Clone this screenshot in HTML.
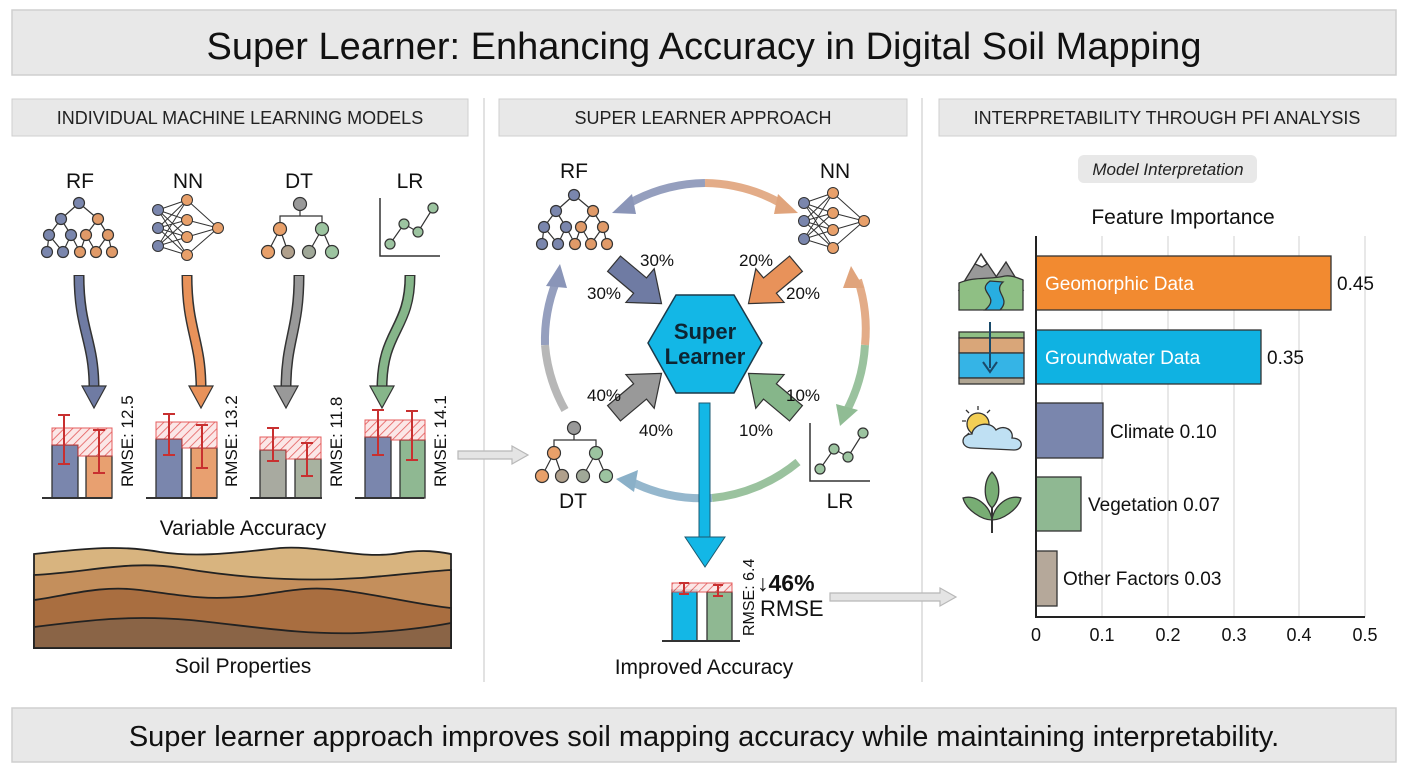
<!DOCTYPE html>
<html><head><meta charset="utf-8"><style>
html,body{margin:0;padding:0;background:#fff;}
svg{display:block;font-family:"Liberation Sans",sans-serif;}
</style></head><body>
<svg width="1408" height="768" viewBox="0 0 1408 768" xmlns="http://www.w3.org/2000/svg">
<defs>
<pattern id="hatch" width="6" height="6" patternUnits="userSpaceOnUse" patternTransform="rotate(45)">
<rect width="6" height="6" fill="#fbe3e3"/><line x1="0" y1="0" x2="0" y2="6" stroke="#e04040" stroke-width="1.6"/></pattern>
<g id="rf" stroke="#333" stroke-width="1.2">
<path d="M79,203 L61,219 M79,203 L98,219 M61,219 L49,235 M61,219 L71,235 M98,219 L86,235 M98,219 L108,235 M49,235 L47,252 M49,235 L63,252 M71,235 L63,252 M71,235 L80,252 M86,235 L80,252 M86,235 L96,252 M108,235 L96,252 M108,235 L112,252" fill="none"/>
<circle cx="79" cy="203" r="5.5" fill="#7a86ad"/><circle cx="61" cy="219" r="5.5" fill="#7a86ad"/><circle cx="98" cy="219" r="5.5" fill="#e09a68"/>
<circle cx="49" cy="235" r="5.5" fill="#7a86ad"/><circle cx="71" cy="235" r="5.5" fill="#7a86ad"/><circle cx="86" cy="235" r="5.5" fill="#e09a68"/><circle cx="108" cy="235" r="5.5" fill="#e09a68"/>
<circle cx="47" cy="252" r="5.5" fill="#7a86ad"/><circle cx="63" cy="252" r="5.5" fill="#7a86ad"/><circle cx="80" cy="252" r="5.5" fill="#e09a68"/><circle cx="96" cy="252" r="5.5" fill="#e09a68"/><circle cx="112" cy="252" r="5.5" fill="#e09a68"/>
</g>
<g id="nn" stroke="#333" stroke-width="1">
<path d="M158,210 L187,200 M158,210 L187,220 M158,210 L187,237 M158,210 L187,255 M158,228 L187,200 M158,228 L187,220 M158,228 L187,237 M158,228 L187,255 M158,246 L187,200 M158,246 L187,220 M158,246 L187,237 M158,246 L187,255 M187,200 L218,228 M187,220 L218,228 M187,237 L218,228 M187,255 L218,228" fill="none"/>
<circle cx="158" cy="210" r="5.5" fill="#7a86ad"/><circle cx="158" cy="228" r="5.5" fill="#7a86ad"/><circle cx="158" cy="246" r="5.5" fill="#7a86ad"/>
<circle cx="187" cy="200" r="5.5" fill="#e8a06a"/><circle cx="187" cy="220" r="5.5" fill="#e8a06a"/><circle cx="187" cy="237" r="5.5" fill="#e8a06a"/><circle cx="187" cy="255" r="5.5" fill="#e8a06a"/><circle cx="218" cy="228" r="5.5" fill="#e8a06a"/>
</g>
<g id="dt" stroke="#333" stroke-width="1.2">
<path d="M300,210 L300,216 L280,216 L280,229 M300,216 L322,216 L322,229 M280,229 L268,252 M280,229 L288,252 M322,229 L309,252 M322,229 L332,252" fill="none"/>
<circle cx="300" cy="204" r="6.5" fill="#999"/><circle cx="280" cy="229" r="6.5" fill="#e8a06a"/><circle cx="322" cy="229" r="6.5" fill="#9cc4a0"/>
<circle cx="268" cy="252" r="6.5" fill="#e8a06a"/><circle cx="288" cy="252" r="6.5" fill="#b0a08c"/><circle cx="309" cy="252" r="6.5" fill="#a0a898"/><circle cx="332" cy="252" r="6.5" fill="#9cc4a0"/>
</g>
<g id="lr" stroke="#333" stroke-width="1.2">
<path d="M380,198 L380,256 L440,256" fill="none" stroke-width="1.5"/>
<path d="M390,244 L404,224 L418,232 L433,208" fill="none"/>
<circle cx="390" cy="244" r="5" fill="#9cc4a0"/><circle cx="404" cy="224" r="5" fill="#9cc4a0"/><circle cx="418" cy="232" r="5" fill="#9cc4a0"/><circle cx="433" cy="208" r="5" fill="#9cc4a0"/>
</g>
<polygon id="fat" points="-30,-10 4,-10 4,-22 32,0 4,22 4,10 -30,10" stroke="#333" stroke-width="1.2"/>
</defs>

<!-- Title -->
<rect x="12" y="10" width="1384" height="65" fill="#e8e8e8" stroke="#cfcfcf" stroke-width="1.5"/>
<text x="704" y="59" font-size="38" text-anchor="middle" fill="#111">Super Learner: Enhancing Accuracy in Digital Soil Mapping</text>

<!-- Section headers -->
<rect x="12" y="99" width="456" height="37" fill="#e8e8e8" stroke="#cfcfcf"/>
<text x="240" y="124" font-size="18" text-anchor="middle" fill="#222">INDIVIDUAL MACHINE LEARNING MODELS</text>
<rect x="499" y="99" width="408" height="37" fill="#e8e8e8" stroke="#cfcfcf"/>
<text x="703" y="124" font-size="18" text-anchor="middle" fill="#222">SUPER LEARNER APPROACH</text>
<rect x="939" y="99" width="457" height="37" fill="#e8e8e8" stroke="#cfcfcf"/>
<text x="1167" y="124" font-size="18" text-anchor="middle" fill="#222">INTERPRETABILITY THROUGH PFI ANALYSIS</text>
<line x1="484" y1="98" x2="484" y2="682" stroke="#d8d8d8" stroke-width="1.5"/>
<line x1="922" y1="98" x2="922" y2="682" stroke="#d8d8d8" stroke-width="1.5"/>

<!-- Left panel -->
<g font-size="21" text-anchor="middle" fill="#111">
<text x="80" y="188">RF</text><text x="188" y="188">NN</text><text x="299" y="188">DT</text><text x="410" y="188">LR</text>
</g>
<use href="#rf"/><use href="#nn"/><use href="#dt"/><use href="#lr"/>

<g fill="none" stroke-linecap="butt">
<path d="M79,275 C79,330 94,340 94,388" stroke="#333" stroke-width="11"/><path d="M79,276 C79,330 94,340 94,388" stroke="#6f7ba3" stroke-width="8"/>
<path d="M187,275 C187,330 201,340 201,388" stroke="#333" stroke-width="11"/><path d="M187,276 C187,330 201,340 201,388" stroke="#e8925a" stroke-width="8"/>
<path d="M299,275 C299,330 286,340 286,388" stroke="#333" stroke-width="11"/><path d="M299,276 C299,330 286,340 286,388" stroke="#999" stroke-width="8"/>
<path d="M410,275 C410,330 382,330 382,388" stroke="#333" stroke-width="11"/><path d="M410,276 C410,330 382,330 382,388" stroke="#86b68a" stroke-width="8"/>
</g>
<polygon points="82,386 106,386 94,408" fill="#6f7ba3" stroke="#333" stroke-width="1.2"/>
<polygon points="189,386 213,386 201,408" fill="#e8925a" stroke="#333" stroke-width="1.2"/>
<polygon points="274,386 298,386 286,408" fill="#999" stroke="#333" stroke-width="1.2"/>
<polygon points="370,386 394,386 382,408" fill="#86b68a" stroke="#333" stroke-width="1.2"/>

<g stroke="#333" stroke-width="1.3">
<rect x="52" y="445" width="26" height="53" fill="#7a86ad"/><rect x="86" y="456" width="26" height="42" fill="#e8a070"/>
<rect x="156" y="439" width="26" height="59" fill="#7a86ad"/><rect x="191" y="448" width="26" height="50" fill="#e8a070"/>
<rect x="260" y="450" width="26" height="48" fill="#a8aaa0"/><rect x="295" y="459" width="26" height="39" fill="#a8b2a0"/>
<rect x="365" y="437" width="26" height="61" fill="#7a86ad"/><rect x="400" y="440" width="25" height="58" fill="#8fb892"/>
</g>
<g opacity="0.85">
<polygon points="52,428 112,428 112,456 78,456 78,445 52,445" fill="url(#hatch)" stroke="#e04040"/>
<polygon points="156,422 217,422 217,448 182,448 182,439 156,439" fill="url(#hatch)" stroke="#e04040"/>
<polygon points="260,437 321,437 321,459 286,459 286,450 260,450" fill="url(#hatch)" stroke="#e04040"/>
<polygon points="365,420 425,420 425,440 391,440 391,437 365,437" fill="url(#hatch)" stroke="#e04040"/>
</g>
<g stroke="#c83030" stroke-width="2">
<path d="M64,415 V464 M58,415 H70 M58,464 H70 M99,430 V473 M93,430 H105 M93,473 H105"/>
<path d="M169,414 V455 M163,414 H175 M163,455 H175 M202,425 V468 M196,425 H208 M196,468 H208"/>
<path d="M273,428 V461 M267,428 H279 M267,461 H279 M307,443 V476 M301,443 H313 M301,476 H313"/>
<path d="M378,410 V455 M372,410 H384 M372,455 H384 M412,411 V460 M406,411 H418 M406,460 H418"/>
</g>
<g stroke="#333" stroke-width="2"><path d="M42,498 H112 M146,498 H217 M250,498 H322 M355,498 H424"/></g>
<g font-size="17" fill="#111">
<text transform="translate(133,487) rotate(-90)">RMSE: 12.5</text>
<text transform="translate(237,487) rotate(-90)">RMSE: 13.2</text>
<text transform="translate(342,487) rotate(-90)">RMSE: 11.8</text>
<text transform="translate(446,487) rotate(-90)">RMSE: 14.1</text>
</g>
<text x="243" y="535" font-size="21" text-anchor="middle" fill="#111">Variable Accuracy</text>

<g stroke="#222" stroke-width="1.8">
<path d="M34,554 C90,548 120,545 160,552 C200,558 240,552 280,548 C320,545 360,560 400,553 C425,549 440,552 451,554 V648 H34 Z" fill="#d8b47f"/>
<path d="M34,575 C90,572 130,560 180,568 C240,578 300,582 360,578 C400,575 430,571 451,570 V648 H34 Z" fill="#c48f5c"/>
<path d="M34,600 C70,595 100,585 140,590 C180,595 200,600 240,597 C280,594 300,585 340,590 C380,595 420,605 451,608 V648 H34 Z" fill="#a96e40"/>
<path d="M34,627 C90,620 130,615 190,620 C250,626 300,635 360,633 C400,631 430,627 451,623 V648 H34 Z" fill="#8a6446"/>
</g>
<text x="243" y="673" font-size="21" text-anchor="middle" fill="#111">Soil Properties</text>

<g fill="#e4e4e4" stroke="#b8b8b8" stroke-width="1.2">
<polygon points="458,451 512,451 512,446 528,455 512,464 512,459 458,459"/>
<polygon points="830,593 940,593 940,588 956,597 940,606 940,601 830,601"/>
</g>

<!-- Middle ring -->
<g fill="none" stroke-width="8" opacity="0.9">
<path d="M628,204 A160,160 0 0 1 705,183" stroke="#8a95b8"/>
<path d="M705,183 A160,160 0 0 1 782,204" stroke="#e0a47c"/>
<path d="M858,280 A160,160 0 0 1 865,345" stroke="#e0a47c"/>
<path d="M865,345 A160,160 0 0 1 846,412" stroke="#90bc94"/>
<path d="M565,410 A160,160 0 0 1 545,345" stroke="#b0b0b0"/>
<path d="M545,345 A160,160 0 0 1 556,282" stroke="#8a95b8"/>
<path d="M798,462 A160,160 0 0 1 712,498" stroke="#90bc94"/>
<path d="M712,498 A160,160 0 0 1 632,482" stroke="#8ab0c8"/>
</g>
<polygon points="612,213 632,194 636,214" fill="#8a95b8"/>
<polygon points="798,213 778,194 774,214" fill="#e0a47c"/>
<polygon points="851,266 843,288 864,288" fill="#e0a47c"/>
<polygon points="840,426 836,404 858,410" fill="#90bc94"/>
<polygon points="560,264 546,286 567,288" fill="#8a95b8"/>
<polygon points="616,479 638,470 634,492" fill="#8ab0c8"/>

<use href="#rf" transform="translate(495,-8)"/>
<use href="#nn" transform="translate(646,-7)"/>
<use href="#dt" transform="translate(274,224)"/>
<use href="#lr" transform="translate(430,225)"/>
<g font-size="21" text-anchor="middle" fill="#111">
<text x="574" y="178">RF</text><text x="835" y="178">NN</text><text x="573" y="508">DT</text><text x="840" y="508">LR</text>
</g>

<use href="#fat" transform="translate(637,283) rotate(40)" fill="#6f7ba3"/>
<use href="#fat" transform="translate(773,283) rotate(140)" fill="#e8925a"/>
<use href="#fat" transform="translate(637,394) rotate(-40)" fill="#999"/>
<use href="#fat" transform="translate(773,394) rotate(-140)" fill="#86b68a"/>
<g font-size="17" text-anchor="middle" fill="#111">
<text x="657" y="266">30%</text><text x="604" y="299">30%</text>
<text x="756" y="266">20%</text><text x="803" y="299">20%</text>
<text x="604" y="401">40%</text><text x="656" y="436">40%</text>
<text x="803" y="401">10%</text><text x="756" y="436">10%</text>
</g>
<polygon points="676,295 734,295 762,343 734,393 676,393 648,343" fill="#13b7e6" stroke="#1c3a4a" stroke-width="1.5"/>
<text x="705" y="339" font-size="22" font-weight="bold" text-anchor="middle" fill="#0d2533">Super</text>
<text x="705" y="364" font-size="22" font-weight="bold" text-anchor="middle" fill="#0d2533">Learner</text>

<rect x="699" y="403" width="11" height="136" fill="#13b7e6" stroke="#1c5a70" stroke-width="1"/>
<polygon points="685,537 725,537 705,567" fill="#13b7e6" stroke="#1c5a70" stroke-width="1"/>

<g stroke="#333" stroke-width="1.3">
<rect x="672" y="590" width="25" height="51" fill="#13b7e6"/><rect x="707" y="592" width="25" height="49" fill="#8fb892"/>
</g>
<rect x="672" y="583" width="60" height="9" fill="url(#hatch)" stroke="#e04040" opacity="0.85"/>
<path d="M684,583 V594 M679,583 H689 M679,594 H689 M718,585 V596 M713,585 H723 M713,596 H723" stroke="#c83030" stroke-width="2"/>
<path d="M662,641 H740" stroke="#333" stroke-width="2"/>
<text transform="translate(754,636) rotate(-90)" font-size="16" fill="#111">RMSE: 6.4</text>
<text x="757" y="591" font-size="23" font-weight="bold" fill="#111">↓46%</text>
<text x="760" y="616" font-size="22" fill="#111">RMSE</text>
<text x="704" y="674" font-size="21" text-anchor="middle" fill="#111">Improved Accuracy</text>

<!-- Right panel -->
<rect x="1078" y="155" width="179" height="28" rx="6" fill="#e8e8e8"/>
<text x="1168" y="175" font-size="17" font-style="italic" text-anchor="middle" fill="#222">Model Interpretation</text>
<text x="1183" y="224" font-size="21" text-anchor="middle" fill="#111">Feature Importance</text>
<g stroke="#d8d8d8" stroke-width="1.2">
<path d="M1102,236 V617 M1168,236 V617 M1234,236 V617 M1299,236 V617 M1365,236 V617"/>
</g>
<g stroke="#333" stroke-width="1.3">
<rect x="1036" y="256" width="295" height="54" fill="#f28a30"/>
<rect x="1036" y="330" width="225" height="54" fill="#0fb2e2"/>
<rect x="1036" y="403" width="67" height="55" fill="#7a86ad"/>
<rect x="1036" y="477" width="45" height="54" fill="#8fb892"/>
<rect x="1036" y="551" width="21" height="55" fill="#b5a89a"/>
</g>
<path d="M1036,236 V617 H1365" fill="none" stroke="#222" stroke-width="2"/>
<g font-size="19" fill="#111">
<text x="1045" y="290" fill="#fff">Geomorphic Data</text><text x="1337" y="290">0.45</text>
<text x="1045" y="364" fill="#fff">Groundwater Data</text><text x="1267" y="364">0.35</text>
<text x="1110" y="438">Climate 0.10</text>
<text x="1088" y="511">Vegetation 0.07</text>
<text x="1063" y="585">Other Factors 0.03</text>
</g>
<g font-size="18" text-anchor="middle" fill="#111">
<text x="1036" y="641">0</text><text x="1102" y="641">0.1</text><text x="1168" y="641">0.2</text><text x="1234" y="641">0.3</text><text x="1299" y="641">0.4</text><text x="1365" y="641">0.5</text>
</g>

<g stroke="#333" stroke-width="1.3">
<polygon points="959,290 981,254 1004,288" fill="#999"/>
<polygon points="990,286 1006,262 1023,290" fill="#999"/>
<polygon points="975,264 981,254 987,264 982,267" fill="#fff"/>
<path d="M959,283 C975,276 990,280 1005,276 C1012,275 1018,278 1023,280 V310 H959 Z" fill="#8fbf84"/>
<path d="M990,281 C975,292 1002,296 985,310 H1000 C1012,298 992,292 1003,282 Z" fill="#28aee0"/>
<rect x="959" y="332" width="65" height="6" fill="#8fbf84"/>
<rect x="959" y="338" width="65" height="15" fill="#d9a679"/>
<rect x="959" y="353" width="65" height="25" fill="#35b4e6"/>
<rect x="959" y="378" width="65" height="6" fill="#b0a592"/>
<path d="M990,322 V368 M983,362 L990,372 L997,362" fill="none" stroke="#1a4a6a" stroke-width="2"/>
<circle cx="978" cy="424" r="11" fill="#f3cf55"/>
<path d="M972,448 C960,448 960,434 972,434 C973,424 990,420 996,430 C1004,424 1014,430 1012,438 C1024,438 1024,450 1014,450 Z" fill="#bfe0f3"/>
<path d="M978,406 V410 M962,421 H966 M966,410 L969,413 M990,410 L987,413 M966,436 L969,433" fill="none"/>
<path d="M992,533 V495" fill="none" stroke-width="2"/>
<path d="M992,508 C982,498 984,480 992,472 C1000,480 1002,498 992,508 Z" fill="#78ad74"/>
<path d="M992,520 C982,520 966,510 963,498 C975,494 990,505 992,520 Z" fill="#78ad74"/>
<path d="M992,520 C1002,520 1018,510 1021,498 C1009,494 994,505 992,520 Z" fill="#78ad74"/>
</g>

<rect x="12" y="708" width="1384" height="54" fill="#e8e8e8" stroke="#cfcfcf" stroke-width="1.5"/>
<text x="704" y="746" font-size="29" text-anchor="middle" fill="#111">Super learner approach improves soil mapping accuracy while maintaining interpretability.</text>
</svg>
</body></html>
